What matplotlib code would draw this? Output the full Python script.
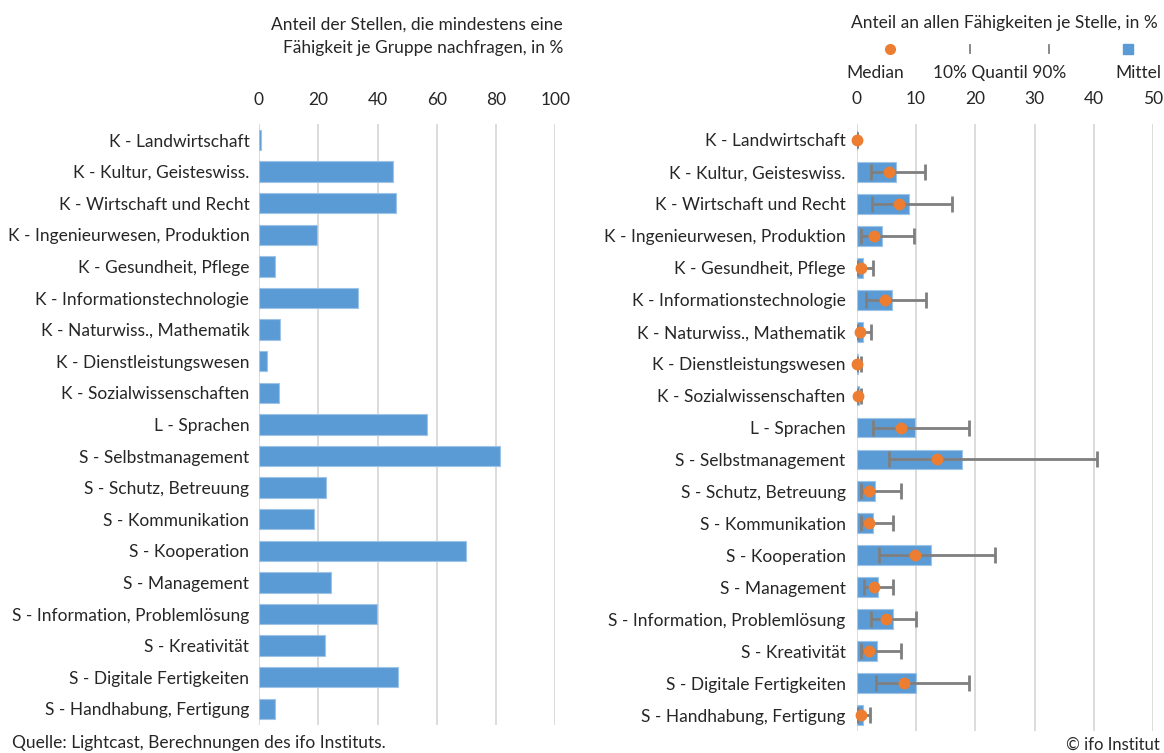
import matplotlib
matplotlib.use("Agg")
import matplotlib.pyplot as plt
import numpy as np

plt.rcParams['font.family'] = ['Lato', 'DejaVu Sans']

categories = [
    "K - Landwirtschaft", "K - Kultur, Geisteswiss.", "K - Wirtschaft und Recht",
    "K - Ingenieurwesen, Produktion", "K - Gesundheit, Pflege", "K - Informationstechnologie",
    "K - Naturwiss., Mathematik", "K - Dienstleistungswesen", "K - Sozialwissenschaften",
    "L - Sprachen", "S - Selbstmanagement", "S - Schutz, Betreuung", "S - Kommunikation",
    "S - Kooperation", "S - Management", "S - Information, Problemlösung",
    "S - Kreativität", "S - Digitale Fertigkeiten", "S - Handhabung, Fertigung",
]
share_jobs = [0.7, 45.3, 46.2, 19.6, 5.5, 33.5, 7.0, 2.6, 6.6,
              56.8, 81.2, 22.5, 18.4, 69.7, 24.4, 39.9, 22.3, 46.9, 5.5]
mean_share = [0.1, 6.7, 8.8, 4.3, 1.1, 6.0, 1.1, 0.3, 0.4,
              9.8, 17.7, 3.1, 2.8, 12.6, 3.6, 6.1, 3.4, 10.0, 1.1]
median_share = [0.0, 5.5, 7.1, 3.0, 0.7, 4.7, 0.6, 0.1, 0.3,
                7.5, 13.5, 2.1, 2.1, 9.9, 3.0, 4.9, 2.1, 8.0, 0.7]
q10 = [0.0, 2.4, 2.6, 0.7, 0.1, 1.6, 0.1, 0.0, 0.1,
       2.8, 5.4, 0.7, 0.7, 3.7, 1.2, 2.4, 0.7, 3.2, 0.1]
q90 = [0.0, 11.5, 16.1, 9.6, 2.8, 11.7, 2.4, 0.7, 0.8,
       18.9, 40.6, 7.5, 6.1, 23.3, 6.1, 10.0, 7.5, 18.9, 2.2]
left_ticks = [0, 20, 40, 60, 80, 100]
right_ticks = [0, 10, 20, 30, 40, 50]

BLUE = "#5B9BD5"
ORANGE = "#ED7D31"
GRAY = "#7F7F7F"
GRID = "#D9D9D9"
TXT = "#262626"
FS = 12.5

W, H = 1164, 753
fig = plt.figure(figsize=(W / 100, H / 100), dpi=100)

def px_axes(x0, x1, ytop, ybot):
    return fig.add_axes([x0 / W, 1 - ybot / H, (x1 - x0) / W, (ybot - ytop) / H])

y = np.arange(len(categories))

def style(ax, ticks, xmax, ypad):
    ax.set_xlim(0, xmax)
    ax.set_ylim(len(categories) - 0.5, -0.5)
    ax.set_xticks(ticks)
    ax.xaxis.tick_top()
    ax.tick_params(axis='x', length=0, pad=12, labelsize=FS, labelcolor=TXT)
    ax.tick_params(axis='y', length=0, pad=ypad, labelsize=FS, labelcolor=TXT)
    ax.set_yticks(y)
    ax.set_yticklabels(categories)
    for s in ax.spines.values():
        s.set_visible(False)
    ax.grid(axis='x', color=GRID, linewidth=1.3)
    ax.set_axisbelow(True)

# Left chart
axl = px_axes(259, 555.3, 124.2, 724.6)
axl.barh(y, share_jobs, height=0.64, color=BLUE, edgecolor="#9DC3E6", linewidth=0.8)
style(axl, left_ticks, 100, 7)

# Right chart
axr = px_axes(856.7, 1153.2, 124.0, 731.0)
axr.barh(y, mean_share, height=0.62, color=BLUE, edgecolor="#9DC3E6", linewidth=0.8, zorder=2)
med = np.array(median_share)
xerr = np.vstack([med - np.array(q10), np.array(q90) - med])
axr.errorbar(median_share, y, xerr=xerr, fmt='none', ecolor=GRAY, elinewidth=2,
             capsize=6, capthick=2, zorder=3)
axr.plot(median_share, y, 'o', color=ORANGE, markersize=7.5, zorder=4, clip_on=False)
style(axr, right_ticks, 50, 8)

# Titles
fig.text(563 / W, 1 - 25 / H, "Anteil der Stellen, die mindestens eine", ha='right', va='center',
         fontsize=FS, color=TXT)
fig.text(563 / W, 1 - 48 / H, "Fähigkeit je Gruppe nachfragen, in %", ha='right', va='center',
         fontsize=FS, color=TXT)
fig.text(1004 / W, 1 - 23 / H, "Anteil an allen Fähigkeiten je Stelle, in %", ha='center', va='center',
         fontsize=FS, color=TXT)

# Legend
ly = 1 - 49 / H
fig.lines.append(plt.Line2D([890 / W], [ly], marker='o', color=ORANGE, markersize=7,
                            linestyle='none', transform=fig.transFigure))
for xm in (970, 1049):
    fig.lines.append(plt.Line2D([xm / W, xm / W], [1 - 45 / H, 1 - 53 / H], color=GRAY,
                                linewidth=1.3, transform=fig.transFigure))
fig.lines.append(plt.Line2D([1128 / W], [ly], marker='s', color=BLUE, markersize=7,
                            linestyle='none', transform=fig.transFigure))
fig.text(875 / W, 1 - 73 / H, "Median", ha='center', va='center', fontsize=FS, color=TXT)
fig.text(1000 / W, 1 - 73 / H, "10% Quantil 90%", ha='center', va='center', fontsize=FS, color=TXT)
fig.text(1138 / W, 1 - 73 / H, "Mittel", ha='center', va='center', fontsize=FS, color=TXT)

# Footer
fig.text(12 / W, 1 - 743 / H, "Quelle: Lightcast, Berechnungen des ifo Instituts.", ha='left',
         va='center', fontsize=FS, color=TXT)
fig.text(1160 / W, 1 - 745 / H, "© ifo Institut", ha='right', va='center', fontsize=FS - 0.5, color=TXT)

fig.savefig("out.png", dpi=100)
